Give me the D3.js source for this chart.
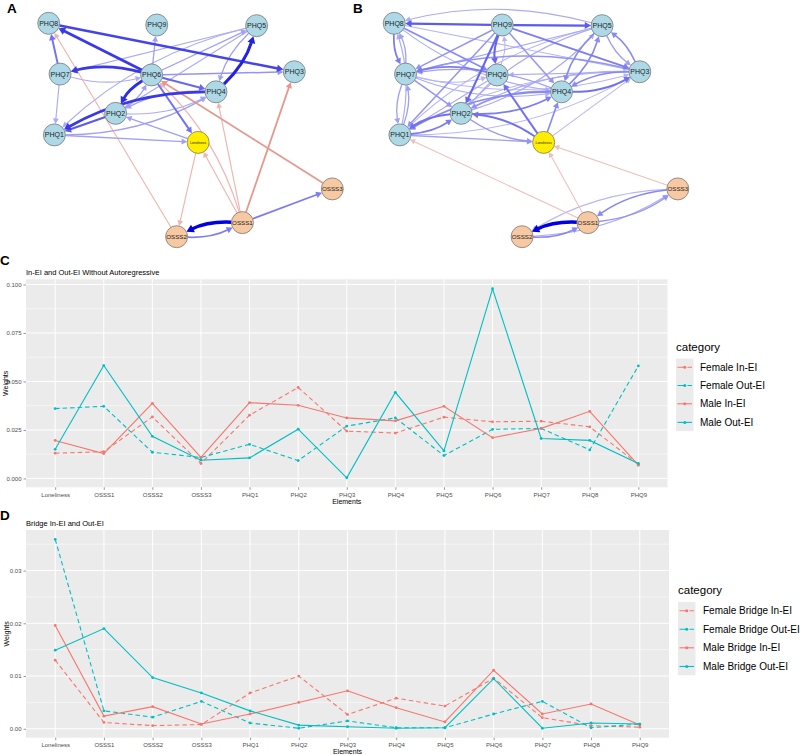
<!DOCTYPE html>
<html><head><meta charset="utf-8">
<script src="https://cdn.jsdelivr.net/npm/d3@7"></script>
<style>body{margin:0;background:#fff}svg{display:block;font-family:Arial,"Liberation Sans",sans-serif}</style>
</head><body>
<svg id="chart" width="800" height="755"></svg>
<script>
// ---------- Line chart data ----------
const elements = ["Loneliness","OSSS1","OSSS2","OSSS3","PHQ1","PHQ2","PHQ3","PHQ4","PHQ5","PHQ6","PHQ7","PHQ8","PHQ9"];
const categoriesC = ["Female In-EI","Female Out-EI","Male In-EI","Male Out-EI"];
const femaleInEI  = [0.0130,0.0138,0.0317,0.0077,0.0326,0.0469,0.0244,0.0234,0.0316,0.0292,0.0295,0.0266,0.0073];
const femaleOutEI = [0.0360,0.0372,0.0135,0.0108,0.0176,0.0092,0.0270,0.0312,0.0118,0.0253,0.0258,0.0147,0.0580];
const maleInEI    = [0.0196,0.0128,0.0387,0.0108,0.0391,0.0377,0.0312,0.0297,0.0372,0.0210,0.0258,0.0346,0.0068];
const maleOutEI   = [0.0150,0.0582,0.0217,0.0094,0.0106,0.0254,0.0003,0.0444,0.0142,0.0978,0.0206,0.0196,0.0077];
const ticksC = [0,0.025,0.05,0.075,0.1];

const categoriesD = ["Female Bridge In-EI","Female Bridge Out-EI","Male Bridge In-EI","Male Bridge Out-EI"];
const femaleBridgeInEI  = [0.0130,0.0012,0.0006,0.0008,0.0068,0.0100,0.0027,0.0058,0.0043,0.0096,0.0021,0.0006,0.0003];
const femaleBridgeOutEI = [0.0359,0.0034,0.0022,0.0052,0.0011,0.0001,0.0015,0.0002,0.0002,0.0028,0.0052,0.0002,0.0009];
const maleBridgeInEI    = [0.0196,0.0024,0.0042,0.0009,0.0028,0.0050,0.0072,0.0040,0.0013,0.0111,0.0028,0.0047,0.0007];
const maleBridgeOutEI   = [0.0149,0.0190,0.0097,0.0068,0.0034,0.0007,0.0004,0.0001,0.0002,0.0095,0.0001,0.0011,0.0009];
const ticksD = [0,0.01,0.02,0.03];

// ---------- Network data ----------
const nodeNames  = ["PHQ8","PHQ9","PHQ5","PHQ7","PHQ6","PHQ3","PHQ4","PHQ2","PHQ1","Loneliness","OSSS3","OSSS1","OSSS2"];
const nodeLayoutX = [0,0.381,0.733,0.040,0.363,0.866,0.590,0.236,0.020,0.527,1,0.683,0.451];
const nodeLayoutY = [0,0.008,0.011,0.238,0.242,0.227,0.321,0.422,0.523,0.558,0.776,0.934,1];
const nodeGroup  = ["PHQ","PHQ","PHQ","PHQ","PHQ","PHQ","PHQ","PHQ","PHQ","Loneliness","OSSS","OSSS","OSSS"];

const edgesA = [
 ["PHQ6","PHQ8",0.75],["PHQ8","PHQ3",0.7],["PHQ7","PHQ8",0.5],["PHQ6","PHQ7",0.75],["PHQ7","PHQ6",0.25],
 ["PHQ6","PHQ9",0.3],["PHQ6","PHQ3",0.35],["PHQ6","PHQ4",0.55],["PHQ6","PHQ2",0.8],["PHQ2","PHQ6",0.3],
 ["PHQ6","Loneliness",0.5],["PHQ6","PHQ5",0.3],["PHQ4","PHQ5",0.85],["PHQ5","PHQ4",0.3],["PHQ4","PHQ1",0.75],
 ["PHQ1","PHQ4",0.3],["PHQ2","PHQ1",0.6],["PHQ7","PHQ1",0.25],["PHQ1","Loneliness",0.3],["Loneliness","PHQ2",0.3],
 ["PHQ5","PHQ7",0.25],["PHQ5","PHQ1",0.25],["PHQ5","PHQ2",0.25],["PHQ4","PHQ2",0.3],["PHQ2","PHQ4",0.25],
 ["OSSS1","OSSS2",1.0],["OSSS2","OSSS1",0.45],["OSSS1","OSSS3",0.45],
 ["OSSS2","PHQ8",-0.25],["OSSS3","PHQ6",-0.45],["OSSS1","PHQ3",-0.45],["OSSS1","PHQ4",-0.25],
 ["OSSS1","Loneliness",-0.25],["OSSS1","PHQ6",-0.25],["Loneliness","OSSS2",-0.25]
];
const edgesB = [
 ["PHQ9","PHQ8",0.6],["PHQ9","PHQ5",0.6],["PHQ5","PHQ8",0.25],["PHQ9","PHQ6",0.55],["PHQ9","PHQ2",0.55],
 ["PHQ9","PHQ7",0.35],["PHQ9","PHQ1",0.35],["PHQ9","PHQ3",0.45],["PHQ9","PHQ4",0.35],["PHQ8","PHQ7",0.45],
 ["PHQ7","PHQ8",0.3],["PHQ8","PHQ6",0.4],["PHQ8","PHQ4",0.25],["PHQ8","PHQ3",0.2],["PHQ7","PHQ1",0.3],
 ["PHQ1","PHQ7",0.3],["PHQ1","PHQ8",0.25],["PHQ6","PHQ7",0.45],["PHQ7","PHQ6",0.2],["PHQ7","PHQ2",0.35],
 ["PHQ7","PHQ4",0.25],["PHQ7","PHQ3",0.2],["PHQ6","PHQ9",0.2],["PHQ6","PHQ1",0.25],["PHQ6","PHQ2",0.25],
 ["PHQ2","PHQ1",0.5],["PHQ1","PHQ2",0.45],["PHQ2","PHQ4",0.45],["PHQ4","PHQ2",0.35],["PHQ2","Loneliness",0.35],
 ["Loneliness","PHQ2",0.5],["Loneliness","PHQ6",0.5],["Loneliness","PHQ4",0.4],["Loneliness","PHQ3",0.2],
 ["PHQ1","Loneliness",0.3],["PHQ3","PHQ5",0.4],["PHQ5","PHQ3",0.3],["PHQ4","PHQ5",0.4],["PHQ5","PHQ4",0.4],
 ["PHQ3","PHQ4",0.4],["PHQ4","PHQ3",0.5],["PHQ3","PHQ7",0.35],["PHQ3","PHQ6",0.25],["PHQ3","PHQ2",0.25],
 ["PHQ3","PHQ1",0.2],["PHQ5","PHQ7",0.25],["PHQ5","PHQ2",0.25],["PHQ5","PHQ1",0.2],["PHQ4","PHQ7",0.3],
 ["PHQ4","PHQ1",0.4],["PHQ1","PHQ3",0.2],["PHQ2","PHQ5",0.25],
 ["OSSS1","OSSS2",1.0],["OSSS2","OSSS1",0.4],["OSSS1","OSSS3",0.35],["OSSS3","OSSS1",0.4],
 ["OSSS2","OSSS3",0.25],["OSSS3","OSSS2",0.2],
 ["OSSS1","PHQ1",-0.2],["OSSS1","Loneliness",-0.2],["OSSS3","Loneliness",-0.2]
];

const svg = d3.select("#chart");
const RED = "#F8766D", TEAL = "#00BFC4";

// ---------- Network drawing ----------
function drawNetwork(xRange, yRange, edges) {
  const g = svg.append("g");
  const xs = d3.scaleLinear().domain([0,1]).range(xRange);
  const ys = d3.scaleLinear().domain([0,1]).range(yRange);
  const R = 11;
  const pos = {};
  nodeNames.forEach((n,i)=>{ pos[n] = {x: xs(nodeLayoutX[i]), y: ys(nodeLayoutY[i]), group: nodeGroup[i]}; });
  const key = new Set(edges.map(e=>e[0]+"|"+e[1]));
  const blue = d3.interpolateRgb("#e4e4ff","#0000e0");
  const red = d3.interpolateRgb("#f8dcd8","#cf4536");
  const sorted = edges.slice().sort((a,b)=>Math.abs(a[2])-Math.abs(b[2]));
  sorted.forEach(([s,t,w])=>{
    const a = pos[s], b = pos[t];
    const dx=b.x-a.x, dy=b.y-a.y, len=Math.hypot(dx,dy);
    let curve = key.has(t+"|"+s);
    if(!curve){
      nodeNames.forEach(n=>{ if(n===s||n===t) return; const p=pos[n];
        const u=((p.x-a.x)*dx+(p.y-a.y)*dy)/(len*len);
        if(u>0.1&&u<0.9){ const cx=a.x+u*dx, cy=a.y+u*dy; if(Math.hypot(p.x-cx,p.y-cy)<R*0.8) curve=true; } });
    }
    const k = curve ? 0.13 : 0;
    const mx=(a.x+b.x)/2 - dy*k, my=(a.y+b.y)/2 + dx*k;
    const t0 = Math.min(1,Math.abs(w));
    const col = w>0 ? blue(t0) : red(t0);
    const wd = 0.4 + 3.1*t0;
    const u1x=mx-a.x, u1y=my-a.y, l1=Math.hypot(u1x,u1y);
    const sx=a.x+u1x/l1*R, sy=a.y+u1y/l1*R;
    const u2x=b.x-mx, u2y=b.y-my, l2=Math.hypot(u2x,u2y);
    const ex=u2x/l2, ey=u2y/l2;
    const tipX=b.x-ex*R, tipY=b.y-ey*R;
    const AL = 4.5 + wd*0.8, AW = 2.2 + wd*0.6;
    const lx=tipX-ex*AL*0.85, ly=tipY-ey*AL*0.85;
    g.append("path").attr("d", `M${sx},${sy}Q${mx},${my} ${lx},${ly}`)
      .attr("fill","none").attr("stroke",col).attr("stroke-width",wd);
    const bx=tipX-ex*AL, by=tipY-ey*AL;
    g.append("path").attr("d",`M${tipX},${tipY}L${bx-ey*AW},${by+ex*AW}L${bx+ey*AW},${by-ex*AW}Z`).attr("fill",col);
  });
  const fills = {PHQ:"#add8e6", Loneliness:"#ffee00", OSSS:"#f6c9a2"};
  nodeNames.forEach(n=>{
    const p = pos[n];
    g.append("circle").attr("cx",p.x).attr("cy",p.y).attr("r",R)
      .attr("fill",fills[p.group]).attr("stroke","#6b6b6b").attr("stroke-width",0.7);
    g.append("text").attr("x",p.x).attr("y",p.y).attr("dy","0.35em").attr("text-anchor","middle")
      .attr("font-size", p.group==="Loneliness"?3.4:(p.group==="OSSS"?6.2:7)).attr("fill","#222").text(n);
  });
}
drawNetwork([48.7,332.3],[23.3,236.7],edgesA);
drawNetwork([394.2,677.8],[23.3,236.7],edgesB);

// ---------- Line panels ----------
function drawLinePanel(cfg){
  const g = svg.append("g");
  const {left,right,top,bottom,series,names,ticks,fmt,title} = cfg;
  const x = d3.scalePoint().domain(elements).range([left,right]).padding(0.6);
  const all = series.flat();
  const mn = d3.min(all), mx = d3.max(all), ex=(mx-mn)*0.05;
  const y = d3.scaleLinear().domain([mn-ex, mx+ex]).range([bottom, top]);
  g.append("rect").attr("x",left).attr("y",top).attr("width",right-left).attr("height",bottom-top).attr("fill","#ebebeb");
  const step = ticks[1]-ticks[0];
  const minors = [];
  for(let v=ticks[0]-step/2; v<=mx+ex+step; v+=step){ if(v>=mn-ex && v<=mx+ex) minors.push(v); }
  minors.forEach(v=> g.append("line").attr("x1",left).attr("x2",right).attr("y1",y(v)).attr("y2",y(v)).attr("stroke","#fff").attr("stroke-width",0.5));
  ticks.forEach(v=> g.append("line").attr("x1",left).attr("x2",right).attr("y1",y(v)).attr("y2",y(v)).attr("stroke","#fff").attr("stroke-width",1));
  elements.forEach(e=> g.append("line").attr("x1",x(e)).attr("x2",x(e)).attr("y1",top).attr("y2",bottom).attr("stroke","#fff").attr("stroke-width",1));
  const ya = d3.axisLeft(y).tickValues(ticks).tickFormat(d3.format(fmt)).tickSize(2.5).tickPadding(2);
  const yg = g.append("g").attr("transform",`translate(${left},0)`).call(ya);
  const xa = d3.axisBottom(x).tickSize(2.5).tickPadding(2.5);
  const xg = g.append("g").attr("transform",`translate(0,${bottom})`).call(xa);
  [yg,xg].forEach(a=>{ a.select(".domain").remove(); a.selectAll("line").attr("stroke","#333").attr("stroke-width",0.5);
    a.selectAll("text").attr("fill","#4d4d4d").attr("font-size",6).attr("font-family","Arial, Liberation Sans, sans-serif"); });
  const colors=[RED,TEAL,RED,TEAL], dashes=["4.5,3","4.5,3",null,null];
  series.forEach((vals,i)=>{
    const line = d3.line().x((d,j)=>x(elements[j])).y(d=>y(d));
    g.append("path").datum(vals).attr("d",line).attr("fill","none").attr("stroke",colors[i]).attr("stroke-width",1.1)
      .attr("stroke-dasharray",dashes[i]);
    vals.forEach((v,j)=> g.append("circle").attr("cx",x(elements[j])).attr("cy",y(v)).attr("r",1.4).attr("fill",colors[i]));
  });
  g.append("text").attr("x",left).attr("y",top-4.5).attr("font-size",7.5).attr("fill","#000").text(title);
  g.append("text").attr("x",(left+right)/2).attr("y",cfg.xTitleY).attr("text-anchor","middle").attr("font-size",7).attr("fill","#000").text("Elements");
  g.append("text").attr("transform",`translate(${cfg.yTitleX},${(top+bottom)/2}) rotate(-90)`).attr("text-anchor","middle").attr("font-size",7).attr("fill","#000").text("Weights");
  const L = cfg.legend;
  g.append("text").attr("x",L.x).attr("y",L.titleY).attr("dy","0.35em").attr("font-size",11.5).attr("fill","#000").text("category");
  const ks=17.5;
  g.append("rect").attr("x",L.x).attr("y",L.rowY[0]-ks/2).attr("width",ks).attr("height",L.rowY[3]-L.rowY[0]+ks).attr("fill","#ebebeb");
  names.forEach((nm,i)=>{
    const cy=L.rowY[i];
    g.append("line").attr("x1",L.x+1.5).attr("x2",L.x+ks-1.5).attr("y1",cy).attr("y2",cy).attr("stroke",colors[i]).attr("stroke-width",1.1).attr("stroke-dasharray",dashes[i]?"7,3":null);
    g.append("circle").attr("cx",L.x+ks/2).attr("cy",cy).attr("r",1.5).attr("fill",colors[i]);
    g.append("text").attr("x",L.textX).attr("y",cy).attr("dy","0.35em").attr("font-size",10).attr("fill","#000").text(nm);
  });
}
drawLinePanel({left:26,right:667.5,top:279.3,bottom:487.3,series:[femaleInEI,femaleOutEI,maleInEI,maleOutEI],names:categoriesC,
  ticks:ticksC,fmt:".3f",title:"In-EI and Out-EI Without Autoregressive",xTitleY:504,yTitleX:7.5,
  legend:{x:676,textX:700,titleY:347,rowY:[367.3,385.5,403.8,422.4]}});
drawLinePanel({left:26,right:669,top:530,bottom:737.7,series:[femaleBridgeInEI,femaleBridgeOutEI,maleBridgeInEI,maleBridgeOutEI],names:categoriesD,
  ticks:ticksD,fmt:".2f",title:"Bridge In-EI and Out-EI",xTitleY:754,yTitleX:8.5,
  legend:{x:678,textX:703,titleY:590,rowY:[610.7,629.2,647.8,666.5]}});

[["A",7,13],["B",353,13],["C",0,265],["D",0,520]].forEach(([t,x,y])=>
  svg.append("text").attr("x",x).attr("y",y).attr("font-size",13.5).attr("font-weight","bold").attr("fill","#000").text(t));
</script>
</body></html>
